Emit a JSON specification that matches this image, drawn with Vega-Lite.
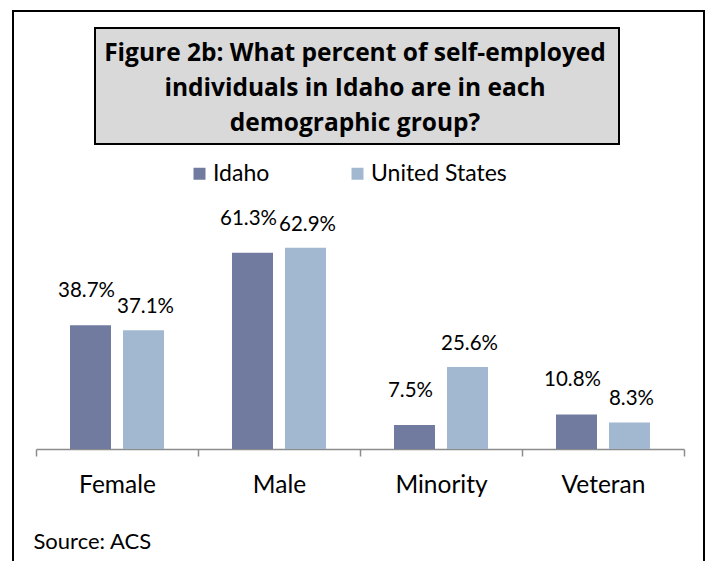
{
  "$schema": "https://vega.github.io/schema/vega-lite/v6.json",
  "padding": {"left": 13, "top": 11, "right": 3, "bottom": 0},
  "background": "white",
  "config": {"font": "Lato"},
  "width": 691,
  "height": 551,
  "view": {"stroke": "#000000", "strokeWidth": 2},
  "title": {
    "text": ["Figure 2b: What percent of self-employed", "individuals in Idaho are in each", "demographic group?"],
    "font": "Open Sans", "fontSize": 24.5, "fontWeight": "bold", "color": "#000000",
    "lineHeight": 35, "anchor": "middle", "frame": "group", "baseline": "top",
    "offset": -125, "dx": -3.5
  },
  "data": {"values": [
    {"group": "Female", "region": "Idaho", "pct": 0.387},
    {"group": "Female", "region": "United States", "pct": 0.371},
    {"group": "Male", "region": "Idaho", "pct": 0.613},
    {"group": "Male", "region": "United States", "pct": 0.629},
    {"group": "Minority", "region": "Idaho", "pct": 0.075},
    {"group": "Minority", "region": "United States", "pct": 0.256},
    {"group": "Veteran", "region": "Idaho", "pct": 0.108},
    {"group": "Veteran", "region": "United States", "pct": 0.083}
  ]},
  "encoding": {
    "x": {
      "field": "group", "type": "nominal",
      "sort": ["Female", "Male", "Minority", "Veteran"],
      "scale": {"range": [23, 671], "paddingInner": 0, "paddingOuter": 0},
      "axis": {
        "title": "Source: ACS", "titleX": 20, "titleY": 92, "titleAlign": "left", "titleBaseline": "middle",
        "titleAnchor": null, "titleFontSize": 22, "titleFontWeight": "normal", "titleColor": "#000000",
        "labelFontSize": 24.5, "labelColor": "#000000", "labelPadding": 17, "labelAngle": 0,
        "domainColor": "#8C8C8C", "domainWidth": 1.5, "tickColor": "#8C8C8C", "tickWidth": 1.5,
        "tickSize": 7, "tickBand": "extent", "offset": -113, "grid": false
      }
    },
    "xOffset": {"field": "region", "type": "nominal", "sort": ["Idaho", "United States"], "scale": {"paddingInner": 0.2264, "paddingOuter": 0.6415}},
    "y": {"field": "pct", "type": "quantitative", "scale": {"domain": [0, 0.7], "range": [438, 214]}, "axis": null}
  },
  "layer": [
    {
      "mark": {"type": "bar", "strokeWidth": 0},
      "encoding": {
        "color": {
          "field": "region", "type": "nominal",
          "scale": {"domain": ["Idaho", "United States"], "range": ["#717BA0", "#A2B8D0"]},
          "legend": {
            "orient": "none", "legendX": 175, "legendY": 151, "direction": "horizontal", "title": null,
            "symbolType": "square", "symbolSize": 144, "symbolStrokeWidth": 0, "labelFontSize": 23,
            "labelColor": "#000000", "labelOffset": 2, "columnPadding": 76, "padding": 0
          }
        },
        "stroke": {
          "field": "pct", "type": "quantitative",
          "scale": {"range": ["#D9D9D9", "#D9D9D9"]},
          "legend": {
            "orient": "none", "legendX": 82, "legendY": 17, "direction": "horizontal", "title": null,
            "labelExpr": "''", "labelOpacity": 0, "labelFontSize": 1, "gradientLength": 524, "gradientThickness": 116,
            "gradientStrokeColor": "#000000", "gradientStrokeWidth": 2, "padding": 0
          }
        }
      }
    },
    {
      "transform": [{"filter": "datum.region === 'Idaho'"}],
      "mark": {"type": "text", "dy": -34, "dx": -4, "fontSize": 20.5, "baseline": "middle", "color": "#000000"},
      "encoding": {"text": {"field": "pct", "type": "quantitative", "format": ".1%"}}
    },
    {
      "transform": [{"filter": "datum.region === 'United States'"}],
      "mark": {"type": "text", "dy": -23, "dx": 2, "fontSize": 20.5, "baseline": "middle", "color": "#000000"},
      "encoding": {"text": {"field": "pct", "type": "quantitative", "format": ".1%"}}
    }
  ]
}
